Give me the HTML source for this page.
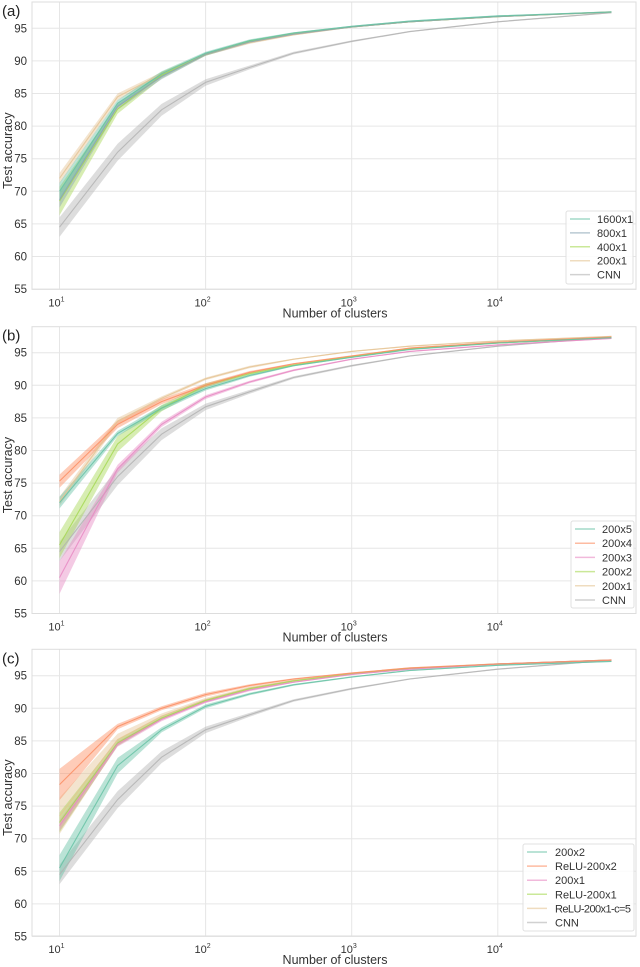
<!DOCTYPE html>
<html><head><meta charset="utf-8">
<style>
html,body{margin:0;padding:0;background:#fff;}
svg{display:block;font-family:"Liberation Sans","DejaVu Sans",sans-serif;}
</style></head>
<body>
<svg id="chart" width="640" height="967" viewBox="0 0 640 967" xmlns="http://www.w3.org/2000/svg"></svg>
<script>
// ---- data ----
const clusters = [10, 25, 50, 100, 200, 400, 1000, 2500, 10000, 60000];
const yTicks = [55, 60, 65, 70, 75, 80, 85, 90, 95];
const xTickExps = [1, 2, 3, 4];

const cnnVals   = [64.5, 76.0, 82.5, 86.7, 89.0, 91.2, 93.0, 94.5, 96.0, 97.4];
const cnnErr    = [1.5, 1.3, 0.9, 0.5, 0.3, 0.2, 0.15, 0.1, 0.1, 0.1];

// panel (a)
const a1600Vals = [70.0, 83.5, 88.0, 91.2, 93.1, 94.3, 95.3, 96.1, 96.9, 97.5];
const a800Vals  = [68.7, 83.0, 87.6, 91.0, 92.9, 94.1, 95.2, 96.0, 96.8, 97.5];
const a400Vals  = [68.5, 82.6, 87.8, 91.0, 93.0, 94.2, 95.2, 96.0, 96.8, 97.5];
const a200Vals  = [72.0, 84.5, 88.0, 91.0, 92.8, 94.0, 95.2, 96.0, 96.8, 97.5];
const a1600Err  = [1.3, 0.5, 0.4, 0.2, 0.2, 0.1, 0.1, 0.1, 0.1, 0.1];
const a800Err   = [1.2, 0.5, 0.4, 0.2, 0.2, 0.1, 0.1, 0.1, 0.1, 0.1];
const a400Err   = [2.2, 0.7, 0.5, 0.2, 0.2, 0.1, 0.1, 0.1, 0.1, 0.1];
const a200Err   = [0.8, 0.5, 0.3, 0.2, 0.2, 0.1, 0.1, 0.1, 0.1, 0.1];

// panel (b)
const b5Vals = [72.0, 82.6, 86.5, 89.5, 91.5, 93.0, 94.3, 95.5, 96.5, 97.3];
const b4Vals = [75.3, 84.0, 87.5, 90.0, 92.0, 93.3, 94.5, 95.7, 96.6, 97.4];
const b3Vals = [60.5, 77.2, 84.0, 88.2, 90.5, 92.3, 94.0, 95.2, 96.2, 97.2];
const b2Vals = [65.5, 81.0, 86.5, 90.0, 91.8, 93.1, 94.4, 95.6, 96.5, 97.3];
const b1Vals = [72.2, 84.5, 88.0, 91.0, 92.8, 94.0, 95.2, 96.0, 96.8, 97.5];
const b5Err = [0.9, 0.4, 0.4, 0.3, 0.2, 0.1, 0.1, 0.1, 0.1, 0.1];
const b4Err = [1.0, 0.6, 0.4, 0.3, 0.2, 0.1, 0.1, 0.1, 0.1, 0.1];
const b3Err = [2.5, 0.6, 0.4, 0.3, 0.2, 0.15, 0.1, 0.1, 0.1, 0.1];
const b2Err = [2.0, 1.2, 0.5, 0.3, 0.2, 0.1, 0.1, 0.1, 0.1, 0.1];
const b1Err = [0.7, 0.5, 0.3, 0.2, 0.2, 0.1, 0.1, 0.1, 0.1, 0.1];

// panel (c)
const c200x2Vals = [65.5, 81.2, 86.7, 90.3, 92.2, 93.6, 94.8, 95.8, 96.6, 97.2];
const cRelu2Vals = [78.3, 87.2, 90.0, 92.1, 93.5, 94.5, 95.4, 96.2, 96.8, 97.4];
const c200x1Vals = [72.0, 84.5, 88.3, 91.0, 92.8, 94.0, 95.2, 96.0, 96.8, 97.4];
const cRelu1Vals = [72.5, 84.7, 88.5, 91.2, 93.0, 94.2, 95.3, 96.1, 96.8, 97.4];
const cReluC5Vals= [73.5, 85.2, 88.8, 91.3, 93.1, 94.3, 95.3, 96.1, 96.8, 97.4];
const c200x2Err = [2.0, 1.2, 0.4, 0.3, 0.2, 0.15, 0.1, 0.1, 0.1, 0.1];
const cRelu2Err = [2.4, 0.4, 0.3, 0.3, 0.2, 0.1, 0.1, 0.1, 0.1, 0.1];
const c200x1Err = [0.8, 0.4, 0.3, 0.2, 0.2, 0.1, 0.1, 0.1, 0.1, 0.1];
const cRelu1Err = [1.5, 0.5, 0.3, 0.2, 0.2, 0.1, 0.1, 0.1, 0.1, 0.1];
const cReluC5Err= [2.8, 0.9, 0.4, 0.3, 0.2, 0.1, 0.1, 0.1, 0.1, 0.1];

const panels = [
  {label:"(a)", top:2, bottom:289.3, y95:28.3,
   legend:{x:566,y:211,w:67,h:73,lineX:570,textX:597,rowH:13.9},
   series:[
    {name:"1600x1", vals:a1600Vals, err:a1600Err, color:"#66c2a5"},
    {name:"800x1",  vals:a800Vals,  err:a800Err,  color:"#8aa5b5"},
    {name:"400x1",  vals:a400Vals,  err:a400Err,  color:"#a6d854"},
    {name:"200x1",  vals:a200Vals,  err:a200Err,  color:"#e5c494"},
    {name:"CNN",    vals:cnnVals,   err:cnnErr,   color:"#b3b3b3"}]},
  {label:"(b)", top:326.7, bottom:613.5, y95:352.7,
   legend:{x:571,y:521,w:63,h:87,lineX:575,textX:602,rowH:14.2},
   series:[
    {name:"200x5", vals:b5Vals, err:b5Err, color:"#66c2a5"},
    {name:"200x4", vals:b4Vals, err:b4Err, color:"#fc8d62"},
    {name:"200x3", vals:b3Vals, err:b3Err, color:"#e78ac3"},
    {name:"200x2", vals:b2Vals, err:b2Err, color:"#a6d854"},
    {name:"200x1", vals:b1Vals, err:b1Err, color:"#e5c494"},
    {name:"CNN",   vals:cnnVals, err:cnnErr, color:"#b3b3b3"}]},
  {label:"(c)", top:649.3, bottom:936, y95:675.7,
   legend:{x:523,y:844,w:111,h:87,lineX:527,textX:555,rowH:14.1},
   series:[
    {name:"200x2", vals:c200x2Vals, err:c200x2Err, color:"#66c2a5"},
    {name:"ReLU-200x2", vals:cRelu2Vals, err:cRelu2Err, color:"#fc8d62"},
    {name:"200x1", vals:c200x1Vals, err:c200x1Err, color:"#e78ac3"},
    {name:"ReLU-200x1", vals:cRelu1Vals, err:cRelu1Err, color:"#a6d854"},
    {name:"ReLU-200x1-c=5", vals:cReluC5Vals, err:cReluC5Err, color:"#e5c494"},
    {name:"CNN", vals:cnnVals, err:cnnErr, color:"#b3b3b3"}]}
];

const NS = "http://www.w3.org/2000/svg";
const svg = document.getElementById("chart");
const LEFT = 32, RIGHT = 636;
function xScale(v){ return 59.5 + (Math.log10(v) - 1) * 146.1; }
function mk(tag, attrs, parent){
  const e = document.createElementNS(NS, tag);
  for (const k in attrs) e.setAttribute(k, attrs[k]);
  (parent || svg).appendChild(e);
  return e;
}

panels.forEach((p, pi) => {
  const yScale = v => p.y95 + (95 - v) * 6.52;
  const g = mk("g", {});
  
  

  yTicks.forEach(t => {
    const y = yScale(t);
    const ln = mk("line", {x1:LEFT, x2:RIGHT, y1:y, y2:y, stroke:"#e6e6e6", "stroke-width":1}, g);
    
    
    const tx = mk("text", {x:27, y:y+4, "text-anchor":"end", "font-size":11.5, fill:"#333"}, g);
    tx.textContent = t;
    
    
  });
  xTickExps.forEach(e => {
    const x = xScale(Math.pow(10, e));
    const ln = mk("line", {x1:x, x2:x, y1:p.top, y2:p.bottom, stroke:"#e6e6e6", "stroke-width":1}, g);
    
    
    const tx = mk("text", {x:x-3, y:p.bottom+17, "text-anchor":"middle", "font-size":11, fill:"#333"}, g);
    tx.textContent = "10";
    
    
    const sup = mk("tspan", {"font-size":7, dy:-5}, tx);
    sup.textContent = e;
  });
  const fr = mk("rect", {x:LEFT, y:p.top, width:RIGHT-LEFT, height:p.bottom-p.top, fill:"none", stroke:"#dddddd", "stroke-width":1}, g);
  
  

  const order = p.series.slice().reverse();
  order.forEach(s => {
    const up = s.vals.map((v,i) => xScale(clusters[i]).toFixed(1) + "," + yScale(v + s.err[i]).toFixed(1));
    const dn = s.vals.map((v,i) => xScale(clusters[i]).toFixed(1) + "," + yScale(v - s.err[i]).toFixed(1)).reverse();
    const band = mk("polygon", {points: up.concat(dn).join(" "), fill:s.color, "fill-opacity":0.45, stroke:"none"}, g);
    
    
  });
  order.forEach(s => {
    const pts = s.vals.map((v,i) => xScale(clusters[i]).toFixed(1) + "," + yScale(v).toFixed(1)).join(" ");
    const ln = mk("polyline", {points: pts, fill:"none", stroke:s.color, "stroke-width":1.1, "stroke-opacity":0.85}, g);
    
    
  });

  const pl = mk("text", {x:2, y:p.top+14, "font-size":15, fill:"#222"}, g);
  pl.textContent = p.label;
  
  
  const yl = mk("text", {x:0, y:0, "font-size":12.5, fill:"#333", "text-anchor":"middle",
    transform:"translate(12," + ((p.top+p.bottom)/2 + 5) + ") rotate(-90)"}, g);
  yl.textContent = "Test accuracy";
  
  
  const xl = mk("text", {x:335, y:p.bottom+28, "font-size":12.5, fill:"#333", "text-anchor":"middle"}, g);
  xl.textContent = "Number of clusters";
  
  

  const L = p.legend;
  const lg = mk("g", {}, g);
  
  
  mk("rect", {x:L.x, y:L.y, width:L.w, height:L.h, rx:2, fill:"#fff", "fill-opacity":0.85, stroke:"#e0e0e0"}, lg);
  p.series.forEach((s, i) => {
    const cy = L.y + 8 + i * L.rowH;
    const ent = mk("g", {}, lg);
    
    
    mk("line", {x1:L.lineX, x2:L.lineX+20, y1:cy, y2:cy, stroke:s.color, "stroke-width":1.5, "stroke-opacity":0.6}, ent);
    const t = mk("text", {x:L.textX, y:cy+4, "font-size":11, fill:"#333", textLength: (s.name.length > 10 ? 76 : null)}, ent);
    if (s.name.length <= 10) t.removeAttribute("textLength");
    t.textContent = s.name;
  });
});
</script>
</body></html>
